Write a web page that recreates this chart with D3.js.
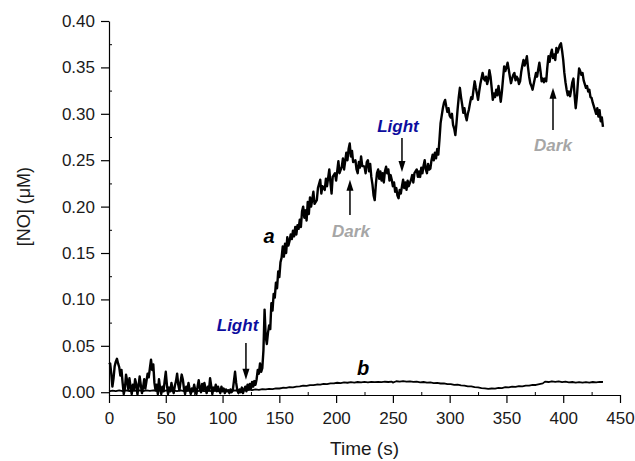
<!DOCTYPE html>
<html><head><meta charset="utf-8">
<script src="https://cdn.jsdelivr.net/npm/d3@7/dist/d3.min.js"></script>
<style>body{margin:0;background:#fff}svg{display:block}</style>
</head><body><svg id="c" width="635" height="461"></svg>
<script>
const xTicks = [0,50,100,150,200,250,300,350,400,450];
const yTicks = [0,0.05,0.10,0.15,0.20,0.25,0.30,0.35,0.40];
const xMinor = [25,75,125,175,225,275,325,375,425];
const yMinor = [0.025,0.075,0.125,0.175,0.225,0.275,0.325,0.375];

const curveA = [[0,.030],[1,.031],[2,.020],[3,.006],[4,.015],[5,.028],[6,.033],[7,.036],[8,.031],[9,.027],[10,.018],[11,.024],[12,.010],[13,-.002],[14,.004],[15,.019],[16,.012],[17,.003],[18,.015],[19,.006],[20,-.002],[21,.008],[22,.002],[23,.014],[24,.009],[25,-.002],[26,.006],[27,.017],[28,.008],[29,-.001],[30,.005],[31,.014],[32,.004],[33,.012],[34,.020],[35,.016],[36,.026],[37,.035],[38,.024],[39,.030],[40,.010],[41,.002],[42,.008],[43,-.002],[44,.014],[45,.004],[46,-.002],[47,.006],[48,.001],[49,.012],[50,.022],[51,.008],[52,-.002],[53,.005],[54,.001],[55,.010],[56,.003],[57,-.001],[58,.007],[59,.012],[60,.020],[61,.008],[62,.002],[63,.011],[64,.019],[65,.014],[66,.004],[67,-.002],[68,.006],[69,.002],[70,.010],[71,.003],[72,-.002],[73,.004],[74,.001],[75,.008],[76,.002],[77,-.002],[78,.006],[79,.013],[80,.004],[81,.000],[82,.009],[83,.002],[84,.010],[85,.004],[86,-.001],[87,.006],[88,.002],[89,.015],[90,.007],[91,-.002],[92,.005],[93,.002],[94,.008],[95,.001],[96,.006],[97,.002],[98,-.001],[99,.006],[100,.001],[101,.004],[102,-.001],[103,.003],[104,.001],[105,.002],[106,-.001],[107,.003],[108,.000],[109,.002],[110,.012],[111,.022],[112,.010],[113,.002],[114,-.001],[115,.003],[116,.000],[117,.005],[118,-.001],[119,.003],[120,.006],[121,.001],[122,.008],[123,.003],[124,.009],[125,.004],[126,.011],[127,.006],[128,.012],[129,.008],[130,.014],
[131,.024],[132,.020],[133,.031],[134,.022],[135,.026],[136,.045],[137,.089],[138,.060],[139,.052],[140,.064],[141,.072],[142,.068],[143,.096],[144,.088],[145,.106],[146,.102],[147,.118],[148,.112],[149,.130],[150,.124],[151,.140],[152,.145],[153,.157],[154,.146],[155,.160],[156,.150],[157,.167],[158,.158],[159,.163],[160,.170],[161,.165],[162,.174],[163,.168],[164,.178],[165,.170],[166,.180],[167,.176],[168,.186],[169,.178],[170,.195],[171,.200],[172,.188],[173,.196],[174,.185],
[175,.205],[176,.192],[177,.210],[178,.200],[180,.216],[181,.203],[183,.207],[184,.220],[186,.229],[187,.214],[188,.222],[190,.218],[191,.230],[192,.222],[194,.240],[195,.226],[196,.214],[197,.232],[199,.236],[200,.228],[202,.249],[203,.236],[205,.243],[206,.252],[207,.240],[209,.258],[210,.250],[211,.262],[212,.268],[213,.254],[214,.260],[215,.248],[217,.250],[218,.240],[219,.236],[220,.248],[221,.242],[222,.254],[223,.244],[225,.243],[226,.236],[227,.248],[228,.250],[229,.238],[230,.246],[231,.232],[232,.224],[233,.212],[234,.207],[235,.224],[236,.236],[237,.240],[238,.230],[239,.238],[240,.228],[241,.236],[242,.226],[243,.238],[244,.243],[245,.236],[246,.240],[247,.228],[248,.234],[249,.229],[250,.222],[251,.226],[252,.216],[253,.220],[254,.212],[255,.209],[256,.218],[257,.214],[258,.222],[259,.229],[260,.220],[261,.226],[262,.218],[263,.228],[264,.222],[266,.229],[267,.234],[268,.226],[269,.236],[271,.240],[272,.232],[273,.238],[274,.232],[275,.242],[276,.236],[277,.244],[278,.250],[279,.240],[280,.236],[281,.246],[282,.240],[283,.241],[284,.250],[285,.256],[286,.250],[287,.258],[288,.252],[289,.262],[290,.256],[291,.272],[292,.290],
[293,.298],[294,.306],[295,.312],[296,.315],[297,.308],[298,.302],[299,.306],[300,.298],[301,.296],[302,.300],[303,.288],[304,.284],[305,.277],[306,.290],[307,.305],[308,.318],[309,.328],[310,.318],[311,.310],[312,.301],[313,.306],[314,.298],[315,.293],[316,.300],[317,.305],[318,.312],[319,.318],[320,.316],[321,.326],[322,.335],[323,.328],[324,.322],[325,.315],[326,.324],[327,.332],[328,.338],[329,.344],[330,.338],[331,.336],[332,.340],[333,.332],[334,.337],[335,.347],[336,.340],[337,.328],[338,.315],[339,.322],[340,.318],[341,.326],[342,.320],[343,.330],[344,.322],[345,.313],[346,.324],[347,.338],[348,.351],[349,.346],[350,.350],[351,.355],[352,.348],[353,.340],[354,.333],[355,.338],[356,.342],[357,.344],[358,.336],[359,.340],[360,.338],[361,.332],[362,.335],[363,.345],[364,.352],[365,.358],[366,.352],[367,.356],[368,.362],[369,.350],[370,.340],[371,.333],[372,.330],[373,.326],[374,.332],[375,.338],[376,.344],[377,.340],[378,.348],[379,.355],[380,.346],[381,.335],[382,.338],[383,.334],[384,.338],[385,.335],[386,.350],[387,.362],[388,.356],[389,.364],[390,.369],[391,.360],[392,.364],[393,.358],[394,.371],[395,.366],[396,.370],[397,.374],[398,.376],[399,.368],[400,.358],[401,.344],[402,.334],[403,.326],[404,.320],[405,.324],[406,.319],[407,.326],[408,.334],[409,.338],[410,.320],[411,.306],[412,.318],[413,.335],[414,.349],[415,.346],[416,.342],[417,.344],[418,.336],[419,.332],[420,.328],[421,.330],[422,.324],[423,.326],[424,.318],[425,.317],[426,.312],[427,.308],[428,.304],[429,.300],[430,.306],[431,.297],[432,.304],[433,.292],[434,.296],[435,.286]];

const curveB = [[0,.0010],[3,.0018],[6,.0012],[9,.0020],[12,.0012],[15,.0019],[18,.0013],[21,.0020],[24,.0014],[27,.0021],[30,.0013],[33,.0020],[36,.0015],[39,.0021],[42,.0014],[45,.0019],[48,.0013],[51,.0020],[54,.0014],[57,.0018],[60,.0012],[63,.0019],[66,.0013],[69,.0018],[72,.0012],[75,.0017],[78,.0012],[81,.0018],[84,.0012],[87,.0017],[90,.0011],[93,.0017],[96,.0012],[99,.0018],[102,.0013],[105,.0019],[108,.0014],[111,.0021],[114,.0016],[117,.0023],[120,.0019],[123,.0027],[126,.0022],[129,.0030],[132,.0026],[135,.0034],[138,.0030],[141,.0036],[144,.0034],[147,.0042],[150,.0040],[153,.0048],[156,.0046],[159,.0055],[162,.0053],[165,.0061],[168,.0062],[171,.0070],[174,.0068],[177,.0077],[180,.0076],[183,.0083],[186,.0082],[189,.0090],[192,.0088],[195,.0096],[198,.0095],[201,.0102],[204,.0099],[207,.0105],[210,.0102],[213,.0108],[216,.0104],[219,.0110],[222,.0106],[225,.0111],[228,.0107],[231,.0112],[234,.0108],[237,.0112],[240,.0109],[243,.0113],[246,.0110],[249,.0114],[250,.0104],[253,.0118],[256,.0114],[259,.0119],[262,.0113],[265,.0117],[268,.0111],[271,.0114],[274,.0107],[277,.0110],[280,.0103],[283,.0106],[286,.0099],[289,.0101],[292,.0094],[295,.0095],[298,.0087],[301,.0088],[304,.0080],[307,.0081],[310,.0073],[313,.0072],[316,.0064],[319,.0062],[322,.0055],[325,.0052],[328,.0045],[331,.0041],[334,.0036],[337,.0040],[340,.0038],[343,.0046],[346,.0045],[349,.0054],[352,.0053],[355,.0060],[358,.0058],[361,.0066],[364,.0064],[367,.0072],[370,.0071],[373,.0079],[376,.0078],[379,.0087],[382,.0095],[384,.0114],[387,.0110],[390,.0118],[393,.0112],[396,.0116],[399,.0109],[402,.0113],[405,.0106],[408,.0110],[411,.0104],[414,.0109],[417,.0103],[420,.0109],[423,.0104],[426,.0110],[429,.0106],[432,.0112],[435,.0110]];

const labels = [
  {text:"a", t:140.9, v:0.161, color:"#000", size:20},
  {text:"b", t:223.7, v:0.0186, color:"#000", size:20},
  {text:"Light", t:113.2, v:0.066, color:"#0d0d9e", size:17},
  {text:"Dark", t:213.1, v:0.167, color:"#a6a6a6", size:17},
  {text:"Light", t:254.5, v:0.2806, color:"#0d0d9e", size:17},
  {text:"Dark", t:391, v:0.260, color:"#a6a6a6", size:17}
];
const arrows = [
  {t:120.6, from:0.053, to:0.0133},
  {t:212.2, from:0.191, to:0.229},
  {t:258, from:0.274, to:0.2374},
  {t:391, from:0.2826, to:0.328}
];

const svg = d3.select("#c");
const x = d3.scaleLinear().domain([0,450]).range([109,620]);
const y = d3.scaleLinear().domain([-0.003,0.40]).range([395,21]);
const font = "'Liberation Sans', Arial, sans-serif";

// minor ticks
svg.append("g").attr("transform","translate(0,395)")
  .call(d3.axisBottom(x).tickValues(xMinor).tickSize(-3).tickFormat(""))
  .call(g=>g.select(".domain").remove());
svg.append("g").attr("transform","translate(109,0)")
  .call(d3.axisLeft(y).tickValues(yMinor).tickSize(-3).tickFormat(""))
  .call(g=>g.select(".domain").remove());

const xa = svg.append("g").attr("transform","translate(0,395)")
  .call(d3.axisBottom(x).tickValues(xTicks).tickSize(8).tickSizeOuter(0).tickPadding(9).tickFormat(d3.format("d")));
const ya = svg.append("g").attr("transform","translate(109,0)")
  .call(d3.axisLeft(y).tickValues(yTicks).tickSize(8).tickSizeOuter(0).tickPadding(6).tickFormat(d3.format(".2f")));
[xa,ya].forEach(g=>{
  g.selectAll("text").attr("font-family",font).attr("font-size",17).attr("fill","#1a1a1a");
  g.selectAll("line,path").attr("stroke","#000").attr("stroke-width",1.2);
});

svg.append("text").attr("x",(x(0)+x(450))/2).attr("y",455).attr("text-anchor","middle")
  .attr("font-family",font).attr("font-size",19).attr("fill","#1a1a1a").text("Time (s)");
svg.append("text").attr("transform",`translate(30,${(y(0)+y(0.4))/2}) rotate(-90)`).attr("text-anchor","middle")
  .attr("font-family",font).attr("font-size",18).attr("fill","#1a1a1a").text("[NO] (\u03BCM)");

const line = d3.line().x(d=>x(d[0])).y(d=>y(d[1]));
svg.append("path").datum(curveB).attr("d",line).attr("fill","none").attr("stroke","#000").attr("stroke-width",1.8).attr("stroke-linejoin","round");
svg.append("path").datum(curveA).attr("d",line).attr("fill","none").attr("stroke","#000").attr("stroke-width",2.4).attr("stroke-linejoin","round");

labels.forEach(l=>{
  svg.append("text").attr("x",x(l.t)).attr("y",y(l.v)).attr("text-anchor","middle")
    .attr("font-family",font).attr("font-weight","bold").attr("font-style","italic")
    .attr("font-size",l.size).attr("fill",l.color).text(l.text);
});
arrows.forEach(a=>{
  const px = x(a.t), y0 = y(a.from), y1 = y(a.to);
  const dir = Math.sign(y1-y0);
  svg.append("line").attr("x1",px).attr("x2",px).attr("y1",y0).attr("y2",y1-dir*8)
    .attr("stroke","#000").attr("stroke-width",1.5);
  svg.append("path").attr("d",`M${px},${y1} L${px-3.5},${y1-dir*11} L${px+3.5},${y1-dir*11} Z`).attr("fill","#000");
});
</script></body></html>
